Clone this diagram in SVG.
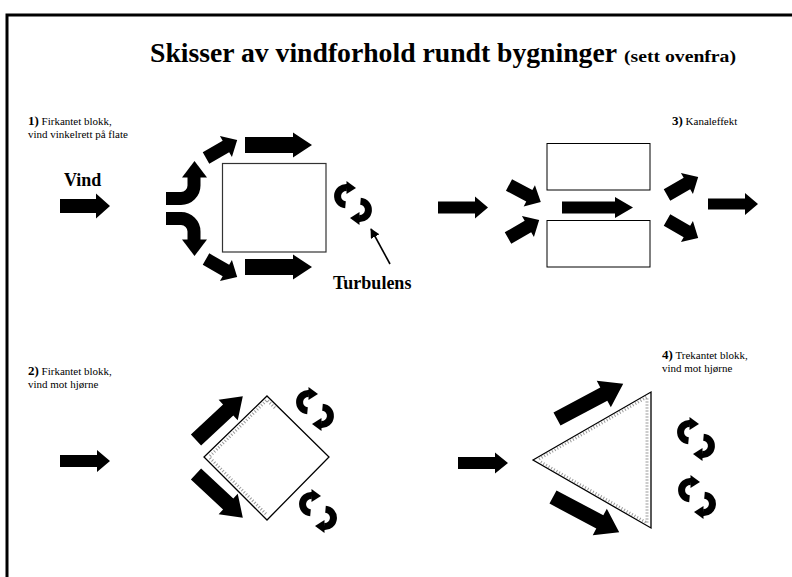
<svg xmlns="http://www.w3.org/2000/svg" width="792" height="577" viewBox="0 0 792 577">
<style>
.t{font-family:"Liberation Serif","Times New Roman",serif;fill:#000}
.b{font-weight:bold}
.ar{fill:#000}
.bld{fill:#fff;stroke:#000;stroke-width:1.3}
.stip{fill:none;stroke:#9a9a9a;stroke-width:3;stroke-dasharray:1 2}
.crv{fill:none;stroke:#000;stroke-width:13}
</style>
<defs>
<g id="turb">
<path d="M-7.5,1.8 A8.5,8.5 0 0 1 -6,-15.5" fill="none" stroke="#000" stroke-width="7"/>
<polygon points="-6.5,-22 -6.5,-9 3,-15" fill="#000"/>
<path d="M7.5,-1.8 A8.5,8.5 0 0 1 6,15.5" fill="none" stroke="#000" stroke-width="7"/>
<polygon points="6.5,22 6.5,9 -3,15" fill="#000"/>
</g>
<polygon id="diag" points="0,-6.5 23,-6.5 23,-12 36,0 23,12 23,6.5 0,6.5"/>
<marker id="thin" viewBox="0 0 10 10" refX="9" refY="5" markerWidth="6" markerHeight="6" orient="auto">
<path d="M0,0 L10,5 L0,10 z" fill="#000"/>
</marker>
</defs>

<g id="frame" fill="none" stroke="#000" stroke-width="3">
<path d="M7,577 V15 H792"/>
</g>

<g id="title">
<text class="t b" x="150" y="62" font-size="27" textLength="467" lengthAdjust="spacingAndGlyphs">Skisser av vindforhold rundt bygninger</text>
<text class="t b" x="624" y="62" font-size="17" textLength="112" lengthAdjust="spacingAndGlyphs">(sett ovenfra)</text>
</g>

<!-- Section 1 -->
<g id="label1">
<text class="t" x="28" y="125" font-size="11"><tspan class="b" font-size="13">1)</tspan> Firkantet blokk,</text>
<text class="t" x="28" y="138" font-size="11">vind vinkelrett på flate</text>
</g>
<g id="vind-label"><text class="t b" x="64" y="186" font-size="18">Vind</text></g>
<g id="block1"><rect x="222.5" y="163.5" width="103.5" height="88.5" fill="#fff" stroke="#333" stroke-width="1.2"/></g>
<g id="turb1"><use href="#turb" x="353" y="203"/></g>
<g id="turbulens-label"><text class="t b" x="333" y="289" font-size="18">Turbulens</text></g>

<!-- Section 3 -->
<g id="label3">
<text class="t" x="672" y="125" font-size="11"><tspan class="b" font-size="13">3)</tspan> Kanaleffekt</text>
</g>
<g id="block3a"><rect x="547" y="143.5" width="103" height="46.5" fill="#fff" stroke="#000" stroke-width="1"/></g>
<g id="block3b"><rect x="547" y="220.5" width="103" height="46.5" fill="#fff" stroke="#000" stroke-width="1"/></g>

<!-- Section 2 -->
<g id="label2">
<text class="t" x="28" y="375" font-size="11"><tspan class="b" font-size="13">2)</tspan> Firkantet blokk,</text>
<text class="t" x="28" y="388" font-size="11">vind mot hjørne</text>
</g>
<g id="block2">
<polygon class="bld" points="267,396 329,457 267,520 204,457"/>
<polyline class="stip" points="210,456 267,400 275,408"/>
<polyline class="stip" points="210,458 267,515"/>
</g>
<g id="turb2a"><use href="#turb" x="315" y="409"/></g>
<g id="turb2b"><use href="#turb" x="318" y="511"/></g>

<!-- Section 4 -->
<g id="label4">
<text class="t" x="662" y="359" font-size="11"><tspan class="b" font-size="13">4)</tspan> Trekantet blokk,</text>
<text class="t" x="662" y="372" font-size="11">vind mot hjørne</text>
</g>
<g id="block4">
<polygon class="bld" points="533,460 651,392 651,528"/>
<polyline class="stip" points="539,459 647,397 647,523 539,461"/>
</g>
<g id="turb4a"><use href="#turb" x="696" y="439"/></g>
<g id="turb4b"><use href="#turb" x="697" y="497"/></g>

<g id="connectors" class="ar">
<!-- section 1 -->
<polygon transform="translate(60,206)" points="0,-7 36,-7 36,-12.5 50,0 36,12.5 36,7 0,7"/>
<path class="crv" d="M166,198.5 H181 A13,13 0 0 0 194,185.5 V176.5"/>
<polygon points="182,177.5 207,177.5 194.5,161"/>
<path class="crv" d="M166,218.5 H181 A13,13 0 0 1 194,231.5 V240.5"/>
<polygon points="182,239.5 207,239.5 194.5,256"/>
<use href="#diag" transform="translate(206,158) rotate(-30)"/>
<use href="#diag" transform="translate(206,259) rotate(30)"/>
<polygon transform="translate(245,145)" points="0,-8 48,-8 48,-12.5 67,0 48,12.5 48,8 0,8"/>
<polygon transform="translate(245,267)" points="0,-8 48,-8 48,-12.5 67,0 48,12.5 48,8 0,8"/>
<line x1="390" y1="264" x2="371" y2="229" stroke="#000" stroke-width="1.6" marker-end="url(#thin)"/>
<!-- section 3 -->
<polygon transform="translate(438,207.5)" points="0,-6 37,-6 37,-11 50,0 37,11 37,6 0,6"/>
<use href="#diag" transform="translate(509,185) rotate(28)"/>
<use href="#diag" transform="translate(508,238) rotate(-30)"/>
<polygon transform="translate(562,207.5)" points="0,-6 53,-6 53,-10.5 71,0 53,10.5 53,6 0,6"/>
<use href="#diag" transform="translate(667,195) rotate(-30)"/>
<use href="#diag" transform="translate(667,220) rotate(30)"/>
<polygon transform="translate(708,204)" points="0,-5.5 37,-5.5 37,-11 50,0 37,11 37,5.5 0,5.5"/>
<!-- section 2 -->
<polygon transform="translate(60,461)" points="0,-6 37,-6 37,-11 50,0 37,11 37,6 0,6"/>
<polygon transform="translate(196,440) rotate(-43)" points="0,-7.5 44,-7.5 44,-14 64,0 44,14 44,7.5 0,7.5"/>
<polygon transform="translate(196,474) rotate(43)" points="0,-7.5 44,-7.5 44,-14 64,0 44,14 44,7.5 0,7.5"/>
<!-- section 4 -->
<polygon transform="translate(458,463)" points="0,-6 37,-6 37,-10.5 50,0 37,10.5 37,6 0,6"/>
<polygon transform="translate(557,419) rotate(-28)" points="0,-7.5 53,-7.5 53,-15 75,0 53,15 53,7.5 0,7.5"/>
<polygon transform="translate(553,497) rotate(28)" points="0,-7.5 53,-7.5 53,-15 75,0 53,15 53,7.5 0,7.5"/>
</g>
</svg>
